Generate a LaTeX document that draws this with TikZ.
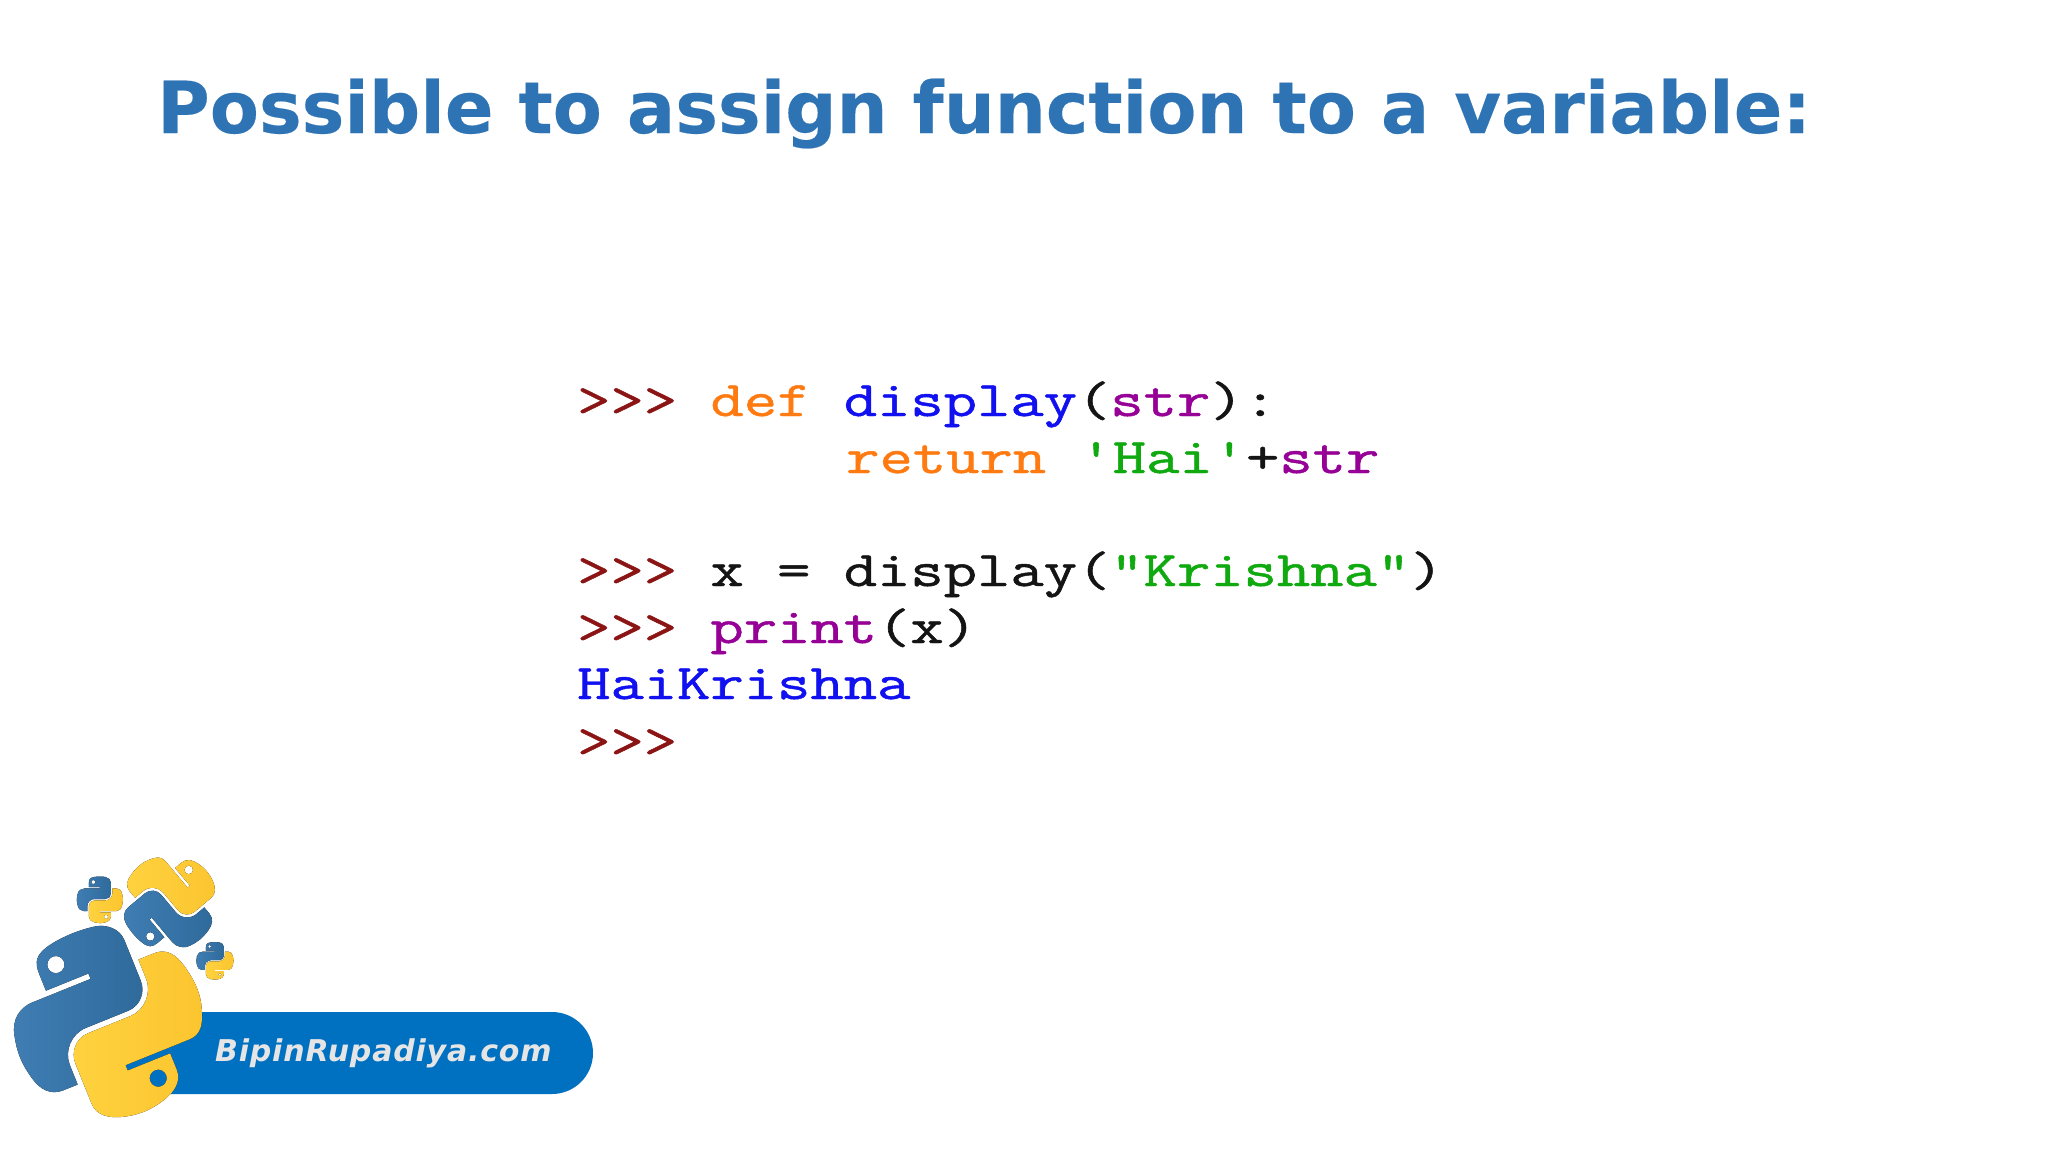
\documentclass[tikz,border=0pt]{standalone}
\usepackage{fontspec}
\newfontfamily\codefont[FakeBold=0.9]{Latin Modern Mono}
\newfontfamily\titlefont[FakeBold=0.25]{DejaVu Sans Bold}
\newfontfamily\brandfont[LetterSpace=2.7]{DejaVu Sans Bold Oblique}
\definecolor{titleblue}{HTML}{2E74B5}
\definecolor{pillblue}{HTML}{0070C0}
\definecolor{cprompt}{HTML}{8B1414}
\definecolor{ckey}{HTML}{FF7A10}
\definecolor{cdef}{HTML}{1010F0}
\definecolor{cbuilt}{HTML}{960096}
\definecolor{cstr}{HTML}{10AA10}
\definecolor{ctxt}{HTML}{141414}
\definecolor{pyblueL}{HTML}{3F7DB3}
\definecolor{pyblueR}{HTML}{2F6A9B}
\definecolor{pyyelL}{HTML}{FFD23F}
\definecolor{pyyelR}{HTML}{FBC52F}
\tikzset{
  codeline/.style={anchor=base west,inner sep=0pt,font=\codefont\fontsize{64.7}{68}\selectfont,text=ctxt,yscale=0.77,transform shape},
  pylogo/.pic={
    \begin{scope}[shift={(-55.8,-56.6)}]
    \fill[left color=pyblueL,right color=pyblueR,even odd rule]
      (54.92,0) .. controls (50.34,0.02) and (45.96,0.41) .. (42.11,1.09)
      .. controls (30.76,3.10) and (28.70,7.29) .. (28.70,15.03)
      -- (28.70,25.25) -- (55.51,25.25) -- (55.51,28.66) -- (28.70,28.66) -- (18.64,28.66)
      .. controls (10.85,28.66) and (4.02,33.34) .. (1.89,42.25)
      .. controls (-0.57,52.46) and (-0.68,58.84) .. (1.89,69.50)
      .. controls (3.79,77.44) and (8.34,83.09) .. (16.13,83.09)
      -- (25.35,83.09) -- (25.35,70.84)
      .. controls (25.35,61.99) and (33.00,54.18) .. (42.11,54.18)
      -- (68.89,54.18)
      .. controls (76.34,54.18) and (82.29,48.04) .. (82.29,40.55)
      -- (82.29,15.03)
      .. controls (82.29,7.77) and (76.16,2.32) .. (68.89,1.09)
      .. controls (64.29,0.33) and (59.50,-0.02) .. (54.92,0) -- cycle
      (39.8,13.3) circle[radius=5.05];
    \fill[left color=pyyelL,right color=pyyelR,even odd rule]
      (85.64,28.66) -- (85.64,40.56)
      .. controls (85.64,49.78) and (77.82,57.54) .. (68.89,57.54)
      -- (42.11,57.54)
      .. controls (34.78,57.54) and (28.70,63.82) .. (28.70,71.17)
      -- (28.70,96.70)
      .. controls (28.70,103.96) and (35.02,108.23) .. (42.11,110.32)
      .. controls (50.60,112.82) and (58.74,113.27) .. (68.89,110.32)
      .. controls (75.64,108.36) and (82.29,104.43) .. (82.29,96.70)
      -- (82.29,86.48) -- (55.51,86.48) -- (55.51,83.07) -- (82.29,83.07) -- (95.70,83.07)
      .. controls (103.49,83.07) and (106.40,77.63) .. (109.11,69.50)
      .. controls (111.91,61.13) and (111.79,53.08) .. (109.11,42.25)
      .. controls (107.18,34.47) and (103.50,28.66) .. (95.70,28.66) -- cycle
      (70.4,97.3) circle[radius=5.05];
    \end{scope}
  }
}
\begin{document}
\begin{tikzpicture}[x=1pt,y=-1pt]
\useasboundingbox (0,0) rectangle (2048,1152);
\fill[white] (0,0) rectangle (2048,1152);
\node[anchor=base west,inner sep=0pt,text=titleblue,font=\titlefont\fontsize{71.7}{80}\selectfont] (title) at (157,133) {Possible to assign function to a variable:};
% code
\node[codeline] (l1) at (577,416) {\textcolor{cprompt}{>>>}~\textcolor{ckey}{def}~\textcolor{cdef}{display}(\textcolor{cbuilt}{str}):};
\node[codeline] (l2) at (846,473) {\textcolor{ckey}{return}~\textcolor{cstr}{'Hai'}+\textcolor{cbuilt}{str}};
\node[codeline] (l4) at (577,586) {\textcolor{cprompt}{>>>}~x = display(\textcolor{cstr}{"Krishna"})};
\node[codeline] (l5) at (577,643) {\textcolor{cprompt}{>>>}~\textcolor{cbuilt}{print}(x)};
\node[codeline,text=cdef] (l6) at (577,699) {HaiKrishna};
\node[codeline,text=cprompt] (l7) at (577,757) {>>>};
% brand
\fill[pillblue,rounded corners=41pt] (120,1012) rectangle (593,1094);
\node[anchor=base west,inner sep=0pt,text=black!10,font=\brandfont\fontsize{30}{32}\selectfont] (brand) at (215,1061) {BipinRupadiya.com};
\pic[rotate=22,scale=1.71] at (109,1023) {pylogo};
\pic[rotate=130,scale=0.86] at (170,902) {pylogo};
\pic[scale=0.415] at (100,900) {pylogo};
\pic[scale=0.335] at (215,961) {pylogo};
\end{tikzpicture}
\end{document}
